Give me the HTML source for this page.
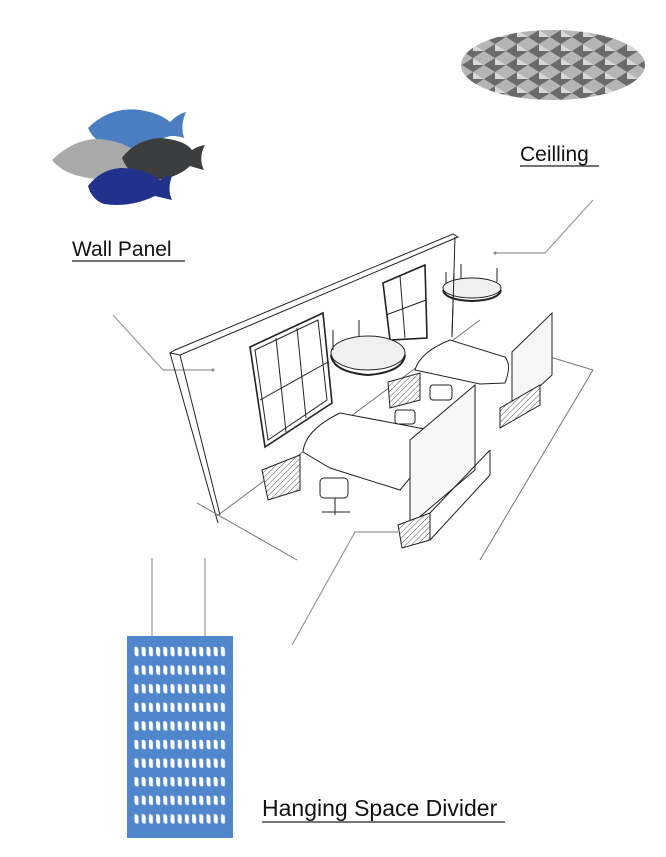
<!DOCTYPE html>
<html><head><meta charset="utf-8"><style>
html,body{margin:0;padding:0;background:#fff;}
svg{display:block}
text{font-family:"Liberation Sans",Arial,sans-serif;fill:#111}
</style></head><body>
<svg width="666" height="857" viewBox="0 0 666 857" xmlns="http://www.w3.org/2000/svg">
<defs>
<pattern id="holes" x="133" y="645" width="7.2" height="18.6" patternUnits="userSpaceOnUse">
<path d="M1.5 2 Q5.5 1 5.5 5 L5.5 11 Q1.5 12 1.5 8 Z" fill="#fff"/>
</pattern>
<pattern id="cell" x="462" y="30" width="22" height="14" patternUnits="userSpaceOnUse">
<rect width="22" height="14" fill="#b5b5b5"/>
<path d="M0 7 L11 0 L22 7 L11 14 Z" fill="#6a6a6a"/>
<path d="M11 0 L22 7 L11 7 Z" fill="#d8d8d8"/>
</pattern>
<pattern id="hatch" width="4" height="4" patternUnits="userSpaceOnUse" patternTransform="rotate(45)">
<rect width="4" height="4" fill="#fff"/><line x1="0" y1="0" x2="0" y2="4" stroke="#555" stroke-width="1"/>
</pattern>
<clipPath id="ceil"><ellipse cx="553" cy="65" rx="92" ry="35"/></clipPath>
</defs>

<g clip-path="url(#ceil)"><rect x="460" y="25" width="190" height="80" fill="url(#cell)"/></g>

<path d="M88 128 Q110 106 140 110 Q160 113 170 122 Q178 114 186 112 Q180 125 184 138 Q172 134 164 138 Q150 150 120 148 Q95 145 88 128 Z" fill="#4a7ec0"/>
<path d="M52 160 Q75 138 100 139 Q125 141 140 155 Q130 168 122 178 Q100 182 75 175 Q60 170 52 160 Z" fill="#a9a9a9"/>
<path d="M122 158 Q135 140 160 138 Q185 140 192 150 Q198 146 205 145 Q198 158 204 170 Q196 168 190 166 Q175 180 150 180 Q130 178 122 158 Z" fill="#3b3d3e"/>
<path d="M88 186 Q100 170 120 168 Q145 168 160 180 Q166 176 172 176 Q167 189 172 200 Q163 198 155 196 Q130 208 104 204 Q92 200 88 186 Z" fill="#22318c"/>

<text x="72" y="256" font-size="21">Wall Panel</text>
<line x1="72" y1="261" x2="185" y2="261" stroke="#222" stroke-width="1.2"/>
<text x="520" y="161" font-size="21">Ceilling</text>
<line x1="520" y1="166" x2="599" y2="166" stroke="#222" stroke-width="1.2"/>
<text x="262" y="816" font-size="23">Hanging Space Divider</text>
<line x1="262" y1="822" x2="505" y2="822" stroke="#222" stroke-width="1.2"/>

<g stroke="#999" stroke-width="1.2" fill="none">
<polyline points="113,315 163,370 213,370"/>
<polyline points="593,200 545,253 495,253"/>
<polyline points="292,645 355,532 398,532"/>
<line x1="152" y1="558" x2="152" y2="636"/>
<line x1="205" y1="558" x2="205" y2="636"/>
</g>
<circle cx="213" cy="370" r="1.5" fill="#888"/>
<circle cx="495" cy="253" r="1.5" fill="#888"/>

<rect x="127" y="636" width="106" height="202" fill="#4f86cc"/>
<rect x="133" y="645" width="94" height="185" fill="url(#holes)"/>

<g stroke="#222" stroke-width="1" fill="none">
<polygon points="170,353 175,350 453,234 458,237 180,355" fill="#fff"/>
<line x1="170" y1="353" x2="218" y2="523"/>
<line x1="180" y1="355" x2="220" y2="515"/>
<line x1="455" y1="237" x2="452" y2="337"/>
<g stroke="#777">
<line x1="197" y1="503" x2="297" y2="560"/>
<line x1="217" y1="516" x2="480" y2="320"/>
<line x1="550" y1="357" x2="593" y2="370"/>
<line x1="593" y1="370" x2="480" y2="560"/>
</g>
<polygon points="250,347 323,313 332,403 265,447" stroke-width="1.6"/>
<polygon points="255,350 318,320 327,400 268,440"/>
<line x1="276" y1="338" x2="286" y2="432"/>
<line x1="297" y1="328" x2="306" y2="418"/>
<line x1="260" y1="400" x2="328" y2="362"/>
<polygon points="383,283 425,265 427,338 390,340" stroke-width="1.6"/>
<line x1="400" y1="276" x2="405" y2="338"/>
<line x1="386" y1="315" x2="426" y2="300"/>
<ellipse cx="368" cy="353" rx="37" ry="17" fill="#f0f0f0"/>
<path d="M331 355 Q333 372 368 375 Q403 372 405 355" stroke-width="2"/>
<line x1="333" y1="330" x2="333" y2="350"/>
<line x1="359" y1="320" x2="359" y2="337"/>
<ellipse cx="472" cy="288" rx="29" ry="10" fill="#f0f0f0"/>
<path d="M443 290 Q445 300 472 301 Q499 300 501 290" stroke-width="2"/>
<line x1="446" y1="272" x2="446" y2="284"/>
<line x1="461" y1="264" x2="461" y2="279"/>
<line x1="497" y1="268" x2="497" y2="282"/>
<line x1="454" y1="273" x2="452" y2="335"/>
<path d="M415 370 Q420 352 450 340 L505 357 Q512 365 505 383 L480 384 Z" fill="#fff"/>
<polygon points="388,382 420,373 420,400 390,408" fill="url(#hatch)"/>
<polygon points="512,352 552,313 552,375 512,412" fill="#f6f6f6"/>
<polygon points="500,408 540,385 540,405 500,428" fill="url(#hatch)"/>
<path d="M303 452 Q305 430 340 413 L430 430 Q440 440 425 460 L400 490 L330 468 Z" fill="#fff"/>
<polygon points="262,470 300,455 300,490 268,500" fill="url(#hatch)"/>
<rect x="320" y="478" width="28" height="20" rx="4"/>
<line x1="335" y1="498" x2="335" y2="515"/>
<line x1="322" y1="512" x2="350" y2="512"/>
<rect x="430" y="385" width="22" height="15" rx="3"/>
<rect x="395" y="410" width="20" height="14" rx="3"/>
<polygon points="410,440 475,385 475,470 410,525" fill="#f7f7f7"/>
<polygon points="398,525 430,513 430,540 402,548" fill="url(#hatch)"/>
<line x1="430" y1="513" x2="490" y2="450"/>
<line x1="430" y1="540" x2="490" y2="475"/>
<line x1="490" y1="450" x2="490" y2="475"/>
</g>
</svg>
</body></html>
